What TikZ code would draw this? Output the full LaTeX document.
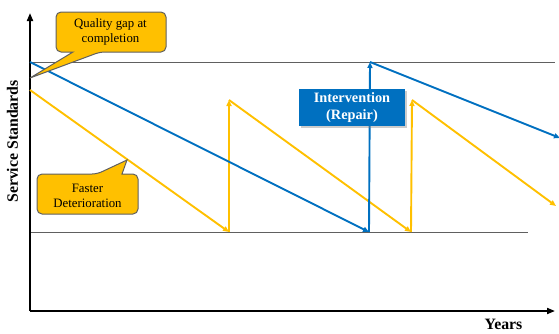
\documentclass[tikz,border=0pt]{standalone}
\usepackage{fontspec}
\setmainfont{Liberation Serif}
\usetikzlibrary{arrows.meta,shadows}
\definecolor{cblue}{HTML}{0070C0}
\definecolor{cyel}{HTML}{FFC000}
\definecolor{cgrey}{HTML}{606060}
\tikzset{
  axis/.style={line width=1.8pt,black,-{Triangle[length=8pt,width=6pt]}},
  guide/.style={line width=0.8pt,cgrey},
  bluearr/.style={line width=1.9pt,cblue,-{Triangle[length=6pt,width=5pt]}},
  yelarr/.style={line width=1.9pt,cyel,-{Triangle[length=6pt,width=5pt]}},
  callout/.style={fill=cyel,draw=cgrey,line width=1pt},
  calltext/.style={align=center,inner sep=0pt,font=\fontsize{12.8}{15}\selectfont,text=black},
  axtext/.style={font=\bfseries\fontsize{15.8}{18}\selectfont},
}
\begin{document}
\begin{tikzpicture}[x=1pt,y=-1pt]
\useasboundingbox (0,0) rectangle (559,333);
% coordinates
\coordinate (o) at (30,311);
\coordinate (ytop) at (30,13);
\coordinate (xend) at (555,311);
\coordinate (t0) at (30,62);
\coordinate (t1) at (555,62);
\coordinate (l0) at (30,232);
\coordinate (l1) at (528,232);
\coordinate (b0) at (30,62);
\coordinate (b1) at (369,232);
\coordinate (b2) at (370,62);
\coordinate (b3) at (560,138);
\coordinate (y0) at (30,90);
\coordinate (y1) at (229,232);
\coordinate (y2) at (229,100);
\coordinate (y3) at (411,232);
\coordinate (y4) at (412,100);
\coordinate (y5) at (556,206);
% guides
\draw[guide] (t0) -- (t1);
\draw[guide] (l0) -- (l1);
% axes
\draw[axis] (o) -- (ytop);
\draw[axis] (o) -- (xend);
\node[axtext,anchor=base,inner sep=0pt] (years) at (503.5,329) {Years};
\node[axtext,rotate=90,inner sep=0pt] (ss) at (12.5,141.5) {Service Standards};
% yellow
\draw[yelarr] (y0) -- (y1);
\draw[yelarr] (y1) -- (y2);
\draw[yelarr] (y2) -- (y3);
\draw[yelarr] (y3) -- (y4);
\draw[yelarr] (y4) -- (y5);
% blue
\draw[bluearr] (b0) -- (b1);
\draw[bluearr] (b1) -- (b2);
\draw[bluearr] (b2) -- (b3);
% callout 1
\draw[callout,rounded corners=5pt] (56,32) -- (56,12) -- (166,12) -- (166,52) -- (100,52) [sharp corners] -- (30,78) -- (73,52) [rounded corners=5pt] -- (56,52) -- cycle;
\node[calltext] (qg) at (110.5,32) {Quality gap at\\completion};
% callout 2
\draw[callout,rounded corners=5pt] (37,194) -- (37,174) -- (97,174) [sharp corners] -- (127,160) -- (122,174) [rounded corners=5pt] -- (138,174) -- (138,214) -- (37,214) -- cycle;
\node[calltext] (fd) at (87.5,195.5) {Faster\\Deterioration};
% intervention
\node[fill=cblue,drop shadow={shadow xshift=1.5pt,shadow yshift=-1.5pt,opacity=0.4},minimum width=106pt,minimum height=37pt,inner sep=0pt,align=center,text=white,font=\bfseries\fontsize{14.3}{17}\selectfont] (iv) at (352,107.5) {Intervention\\(Repair)};
\end{tikzpicture}
\end{document}
